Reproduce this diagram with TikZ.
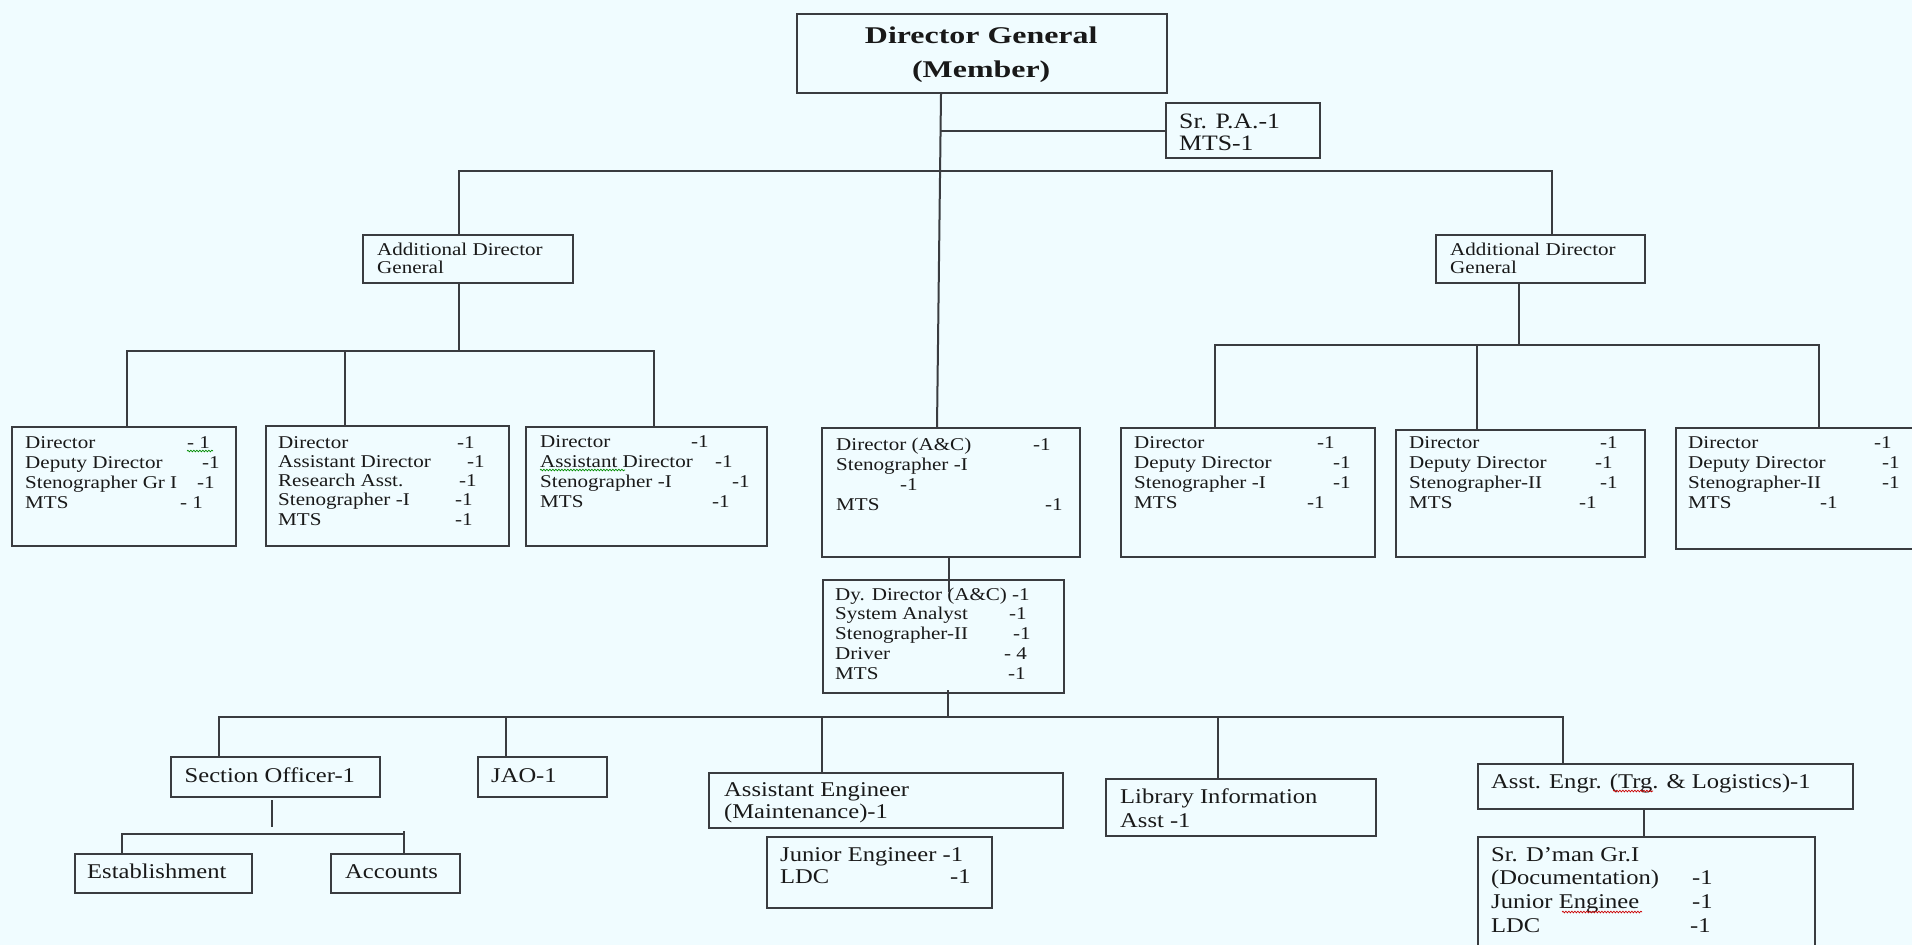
\documentclass[tikz,border=0pt]{standalone}
\usepackage{fontspec}
\setmainfont{Liberation Serif}[FakeStretch=1.17]
\newfontfamily\dgfont{Liberation Serif}[FakeStretch=1.33]
\usetikzlibrary{calc,decorations.pathmorphing}
\definecolor{bgc}{RGB}{240,252,255}
\definecolor{lnc}{RGB}{58,60,64}
\newcommand\rw[3]{\hbox{\makebox[#1pt][l]{#2}#3}}
\newcommand\rl[1]{\hbox{#1}}
\newcommand\rc[2]{\hbox to #1pt{\hfil #2\hfil}}
\begin{document}
\begin{tikzpicture}[x=1pt,y=-1pt,
  box/.style={draw=lnc, line width=2pt, anchor=north west, inner sep=0pt, rectangle},
  conn/.style={draw=lnc, line width=2pt},
  txt/.style={anchor=base west, inner sep=0pt, text=black!90},
  dfont/.style={font=\fontsize{18}{20}\selectfont},
  bfont/.style={font=\fontsize{21}{22}\selectfont},
  wavyg/.style={draw=green!55!black, line width=0.7pt, decorate, decoration={snake, amplitude=0.8pt, segment length=3pt}},
  wavyr/.style={draw=red!80!black, line width=0.7pt, decorate, decoration={snake, amplitude=0.8pt, segment length=3pt}}]
\fill[bgc] (0,0) rectangle (1912,945);
\useasboundingbox (0,0) rectangle (1912,945);
\clip (0,0) rectangle (1912,945);

% ---------- boxes ----------
\node[box, minimum width=370pt, minimum height=79pt] (dg) at (796,13) {};
\node[box, minimum width=154pt, minimum height=55pt] (srpa) at (1165,102) {};
\node[box, minimum width=210pt, minimum height=48pt] (adgL) at (362,234) {};
\node[box, minimum width=209pt, minimum height=48pt] (adgR) at (1435,234) {};
\node[box, minimum width=224pt, minimum height=119pt] (b1) at (11,426) {};
\node[box, minimum width=243pt, minimum height=120pt] (b2) at (265,425) {};
\node[box, minimum width=241pt, minimum height=119pt] (b3) at (525,426) {};
\node[box, minimum width=258pt, minimum height=129pt] (b4) at (821,427) {};
\node[box, minimum width=254pt, minimum height=129pt] (b5) at (1120,427) {};
\node[box, minimum width=249pt, minimum height=127pt] (b6) at (1395,429) {};
\node[box, minimum width=260pt, minimum height=121pt] (b7) at (1675,427) {};
\node[box, minimum width=241pt, minimum height=113pt] (dy) at (822,579) {};
\node[box, minimum width=209pt, minimum height=40pt] (so) at (170,756) {};
\node[box, minimum width=129pt, minimum height=40pt] (jao) at (477,756) {};
\node[box, minimum width=354pt, minimum height=55pt] (ae) at (708,772) {};
\node[box, minimum width=225pt, minimum height=71pt] (je) at (766,836) {};
\node[box, minimum width=270pt, minimum height=57pt] (lib) at (1105,778) {};
\node[box, minimum width=375pt, minimum height=45pt] (aet) at (1477,763) {};
\node[box, minimum width=337pt, minimum height=130pt] (srd) at (1477,836) {};
\node[box, minimum width=177pt, minimum height=39pt] (est) at (74,853) {};
\node[box, minimum width=129pt, minimum height=39pt] (acc) at (330,853) {};

% ---------- texts ----------
\node[txt, font=\dgfont\bfseries\fontsize{24}{34}\selectfont] (dgt) at (831,43)
  {\vtop{\rc{300}{Director General}\rc{300}{(Member)}}};
\node[txt, font=\fontsize{22}{22}\selectfont] (srpat) at (1179,128)
  {\vtop{\rl{Sr. P.A.-1}\rl{MTS-1}}};
\node[txt, font=\fontsize{18}{18}\selectfont] (adgLt) at (377,255)
  {\vtop{\rl{Additional Director}\rl{General}}};
\node[txt, font=\fontsize{18}{18}\selectfont] (adgRt) at (1450,255)
  {\vtop{\rl{Additional Director}\rl{General}}};
\node[txt, dfont] (b1t) at (25,448)
  {\vtop{\rw{162}{Director}{- 1}\rw{177}{Deputy Director}{-1}\rw{172}{Stenographer Gr I}{-1}\rw{155}{MTS}{- 1}}};
\node[txt, font=\fontsize{18}{19.3}\selectfont] (b2t) at (278,448)
  {\vtop{\rw{179}{Director}{-1}\rw{189}{Assistant Director}{-1}\rw{181}{Research Asst.}{-1}\rw{177}{Stenographer -I}{-1}\rw{177}{MTS}{-1}}};
\node[txt, dfont] (b3t) at (540,447)
  {\vtop{\rw{151}{Director}{-1}\rw{175}{Assistant Director}{-1}\rw{192}{Stenographer -I}{-1}\rw{172}{MTS}{-1}}};
\node[txt, dfont] (b4t) at (836,450)
  {\vtop{\rw{197}{Director (A\&C)}{-1}\rl{Stenographer -I}\rl{\hspace*{64pt}-1}\rw{209}{MTS}{-1}}};
\node[txt, dfont] (b5t) at (1134,448)
  {\vtop{\rw{183}{Director}{-1}\rw{199}{Deputy Director}{-1}\rw{199}{Stenographer -I}{-1}\rw{173}{MTS}{-1}}};
\node[txt, dfont] (b6t) at (1409,448)
  {\vtop{\rw{191}{Director}{-1}\rw{186}{Deputy Director}{-1}\rw{191}{Stenographer-II}{-1}\rw{170}{MTS}{-1}}};
\node[txt, dfont] (b7t) at (1688,448)
  {\vtop{\rw{186}{Director}{-1}\rw{194}{Deputy Director}{-1}\rw{194}{Stenographer-II}{-1}\rw{132}{MTS}{-1}}};
\node[txt, font=\fontsize{18}{19.75}\selectfont] (dyt) at (835,600)
  {\vtop{\rl{Dy. Director (A\&C) -1}\rw{174}{System Analyst}{-1}\rw{178}{Stenographer-II}{-1}\rw{169}{Driver}{- 4}\rw{173}{MTS}{-1}}};
\node[txt, bfont] (sot) at (184.5,782) {Section Officer-1};
\node[txt, bfont] (jaot) at (491,782) {JAO-1};
\node[txt, bfont] (aett) at (724,796) {\vtop{\rl{Assistant Engineer}\rl{(Maintenance)-1}}};
\node[txt, bfont] (jet) at (780,861) {\vtop{\rl{Junior Engineer -1}\rw{170}{LDC}{-1}}};
\node[txt, font=\fontsize{21}{24}\selectfont] (libt) at (1120,803) {\vtop{\rl{Library Information}\rl{Asst -1}}};
\node[txt, bfont] (aettt) at (1491,788) {Asst. Engr. (Trg. \& Logistics)-1};
\node[txt, font=\fontsize{21}{23.7}\selectfont] (srdt) at (1491,861)
  {\vtop{\rl{Sr. D’man Gr.I}\rw{201}{(Documentation)}{-1}\rw{201}{Junior Enginee}{-1}\rw{199}{LDC}{-1}}};
\node[txt, bfont] (estt) at (87,878) {Establishment};
\node[txt, bfont] (acct) at (345,878) {Accounts};

% ---------- spell-check marks ----------
\draw[wavyg] (187,451) -- (213,451);
\draw[wavyg] (540,470) -- (625,470);
\draw[wavyr] (1613,791) -- (1653,791);
\draw[wavyr] (1562,912) -- (1642,912);

% ---------- connectors ----------
\coordinate (dgx) at ([xshift=145pt]dg.south west);
\coordinate (tbar) at (941,171);
\coordinate (lbar) at (459,351);
\coordinate (rbar) at (1519,345);
\coordinate (bbar) at (948,717);
\coordinate (sbar) at (260,834);

\draw[conn] (dgx) -- ([xshift=116pt]b4.north west);
\draw[conn] (srpa.west) -- (srpa.west -| dgx);
\draw[conn] ([xshift=97pt]adgL.north west) |- (tbar) -| ([xshift=117pt]adgR.north west);

\draw[conn] ([xshift=97pt]adgL.south west) -- (lbar);
\draw[conn] ([xshift=116pt]b1.north west) |- (lbar) -| ([xshift=129pt]b3.north west);
\draw[conn] ([xshift=80pt]b2.north west) -- ([xshift=80pt]b2.north west |- lbar);

\draw[conn] ([xshift=84pt]adgR.south west) -- (rbar);
\draw[conn] ([xshift=95pt]b5.north west) |- (rbar) -| ([xshift=144pt]b7.north west);
\draw[conn] ([xshift=81.5pt]b6.north west) -- ([xshift=81.5pt]b6.north west |- rbar);

\draw[conn] ([xshift=128pt]b4.south west) -- ([xshift=127pt,yshift=-13pt]dy.north west);
\draw[conn] ([xshift=126pt,yshift=4pt]dy.south west) -- (bbar);
\draw[conn] ([xshift=48.5pt]so.north west) |- (bbar) -| ([xshift=86pt]aet.north west);
\draw[conn] ([xshift=29pt]jao.north west) -- ([xshift=29pt]jao.north west |- bbar);
\draw[conn] ([xshift=114pt]ae.north west) -- ([xshift=114pt]ae.north west |- bbar);
\draw[conn] ([xshift=113pt]lib.north west) -- ([xshift=113pt]lib.north west |- bbar);

\draw[conn] ([xshift=102pt,yshift=-2pt]so.south west) -- ++(0,27);
\draw[conn] ([xshift=47.5pt]est.north west) |- (sbar) -| ([xshift=74pt]acc.north west);
\draw[conn] ([xshift=74pt]acc.north west) -- ++(0,-22);
\draw[conn] ([xshift=167pt]aet.south west) -- ([xshift=167pt]srd.north west);
\end{tikzpicture}
\end{document}
